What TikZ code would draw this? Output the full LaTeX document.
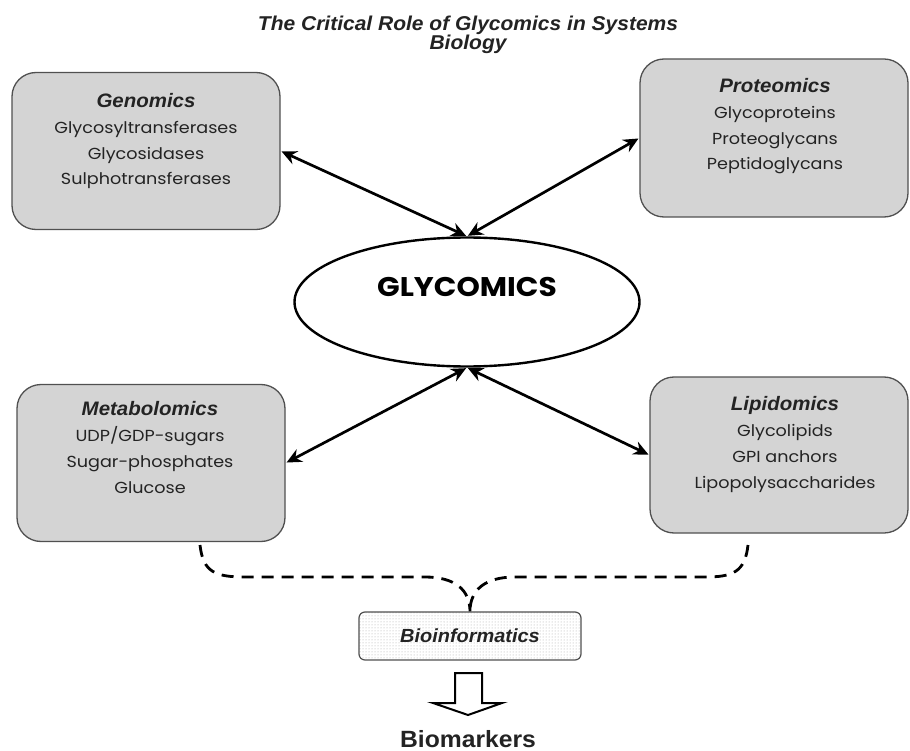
\documentclass[tikz,border=0pt]{standalone}
\usepackage{fontspec}
\usetikzlibrary{arrows.meta,shapes.geometric,patterns}
\newfontfamily\hdfont[FakeStretch=1.05]{Liberation Sans}
\newfontfamily\cmfont[FakeStretch=1.1]{Poppins}
\definecolor{boxfill}{RGB}{212,212,212}
\definecolor{boxline}{RGB}{80,80,80}
\definecolor{txt}{RGB}{35,35,35}
\tikzset{
  omicbox/.style={draw=boxline, line width=1.3pt, fill=boxfill, rounded corners=24pt, inner sep=0pt},
  omictext/.style={anchor=base, align=center, text=txt, inner sep=0pt, font=\cmfont\fontsize{16}{25.8}\selectfont},
  link/.style={{Stealth[length=15pt,width=14pt,inset=5pt]}-{Stealth[length=15pt,width=14pt,inset=5pt]}, line width=2.7pt, shorten <=1pt, shorten >=1pt},
  dashlink/.style={line width=2.8pt, dash pattern=on 12pt off 8pt},
}
\newcommand{\omtitle}[1]{{\hdfont\bfseries\itshape\fontsize{19.5}{25.8}\selectfont #1}}
\begin{document}
\begin{tikzpicture}[x=1pt,y=-1pt]
\useasboundingbox (0,0) rectangle (910,751);
% title
\node[align=center, anchor=base, inner sep=0pt, font=\hdfont\bfseries\itshape\fontsize{20}{18.5}\selectfont, text=txt] (title) at (468,50) {The Critical Role of Glycomics in Systems\\Biology};
% boxes
\node[omicbox, minimum width=268pt, minimum height=157pt] (gen) at (146,151) {};
\node[omicbox, minimum width=268pt, minimum height=158pt] (prot) at (774,138) {};
\node[omicbox, minimum width=268pt, minimum height=157pt] (met) at (151,463) {};
\node[omicbox, minimum width=258pt, minimum height=156pt] (lip) at (779,455) {};
\node[omictext] (gent) at (146,185) {\omtitle{Genomics}\\Glycosyltransferases\\Glycosidases\\Sulphotransferases};
\node[omictext] (prott) at (775,170) {\omtitle{Proteomics}\\Glycoproteins\\Proteoglycans\\Peptidoglycans};
\node[omictext] (mett) at (150,493) {\omtitle{Metabolomics}\\UDP/GDP-sugars\\Sugar-phosphates\\Glucose};
\node[omictext] (lipt) at (785,488) {\omtitle{Lipidomics}\\Glycolipids\\GPI anchors\\Lipopolysaccharides};
% ellipse
\node[ellipse, draw, line width=2.4pt, fill=white, minimum width=345pt, minimum height=129pt, inner sep=0pt] (gly) at (467,302) {};
\node[font=\cmfont\bfseries\fontsize{27}{30}\selectfont, inner sep=0pt, anchor=base] (glyt) at (467,297) {GLYCOMICS};
% arrows
\draw[link] (gen.east) -- (gly.north);
\draw[link] (prot.west) -- (gly.north);
\draw[link] (met.east) -- (gly.south);
\draw[link] (lip.west) -- (gly.south);
% bioinformatics
\node[draw=boxline, line width=1.2pt, rounded corners=6pt, minimum width=222pt, minimum height=48pt, inner sep=0pt, pattern=dots, pattern color=gray!70] (bio) at (470,636) {};
\node[font=\hdfont\bfseries\itshape\fontsize{19}{20}\selectfont, text=txt, inner sep=0pt] (biot) at (470,636) {Bioinformatics};
\coordinate (dl) at (200,545);
\coordinate (dr) at (748,545);
\draw[dashlink] (dl) .. controls (203,572) and (215,577) .. (245,577) -- (425,577) .. controls (455,577) and (470,590) .. (bio.north);
\draw[dashlink] (dr) .. controls (745,572) and (733,577) .. (705,577) -- (515,577) .. controls (485,577) and (470,590) .. (bio.north);
% hollow arrow
\draw[line width=2pt, fill=white, line join=miter] (455,673) -- (482,673) -- (482,703) -- (502,703) -- (468,715) -- (433,703) -- (455,703) -- cycle;
\node[font=\hdfont\bfseries\fontsize{23.5}{26}\selectfont, text=txt, inner sep=0pt, anchor=base] (bm) at (468,747) {Biomarkers};
\end{tikzpicture}
\end{document}
